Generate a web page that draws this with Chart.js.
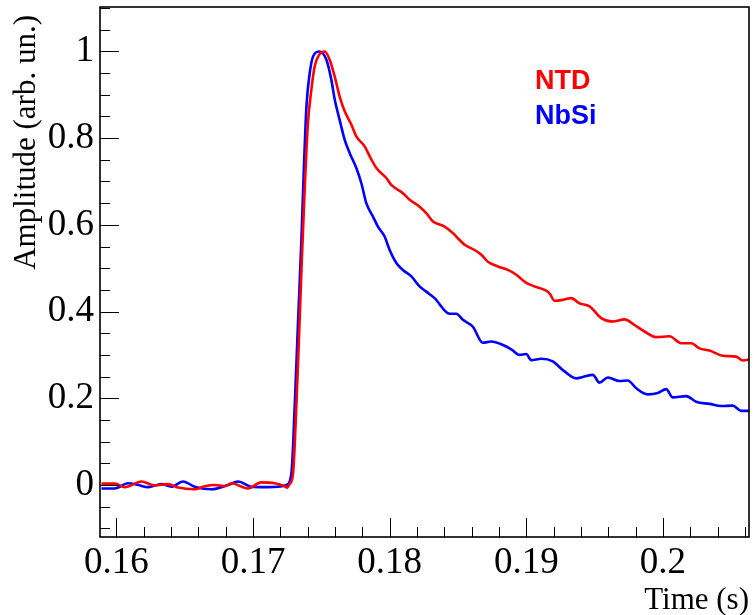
<!DOCTYPE html>
<html>
<head>
<meta charset="utf-8">
<script src="https://cdn.jsdelivr.net/npm/chart.js@4/dist/chart.umd.min.js"></script>
<style>
  html, body { margin: 0; padding: 0; background: #ffffff; }
  #wrap { width: 754px; height: 615px; }
</style>
</head>
<body>
<div id="wrap"><canvas id="c" width="754" height="615"></canvas></div>
<script>
// ---------------- data ----------------
const seriesNames = ['NTD', 'NbSi'];

const timeNTD = [
  0.15891, 0.15988, 0.16061, 0.16184, 0.16281, 0.16378, 0.16451, 0.16573, 0.16646, 0.16720,
  0.16793, 0.16842, 0.16963, 0.17061, 0.17159, 0.17232, 0.17250, 0.17268, 0.17293, 0.17317,
  0.17336, 0.17358, 0.17378, 0.17402, 0.17427, 0.17451, 0.17483, 0.17524, 0.17561, 0.17598,
  0.17634, 0.17671, 0.17720, 0.17756, 0.17817, 0.17854, 0.17903, 0.17976, 0.18012, 0.18097,
  0.18146, 0.18219, 0.18268, 0.18317, 0.18402, 0.18463, 0.18512, 0.18549, 0.18622, 0.18671,
  0.18719, 0.18792, 0.18865, 0.18927, 0.19000, 0.19061, 0.19134, 0.19170, 0.19207, 0.19268,
  0.19329, 0.19390, 0.19463, 0.19548, 0.19633, 0.19719, 0.19792, 0.19865, 0.19951, 0.20048,
  0.20134, 0.20207, 0.20268, 0.20341, 0.20438, 0.20536, 0.20584, 0.20640
];
const ampNTD = [
  0.003, 0.003, -0.005, 0.008, -0.001, 0.002, -0.006, -0.010, -0.003, 0.000,
  -0.003, 0.004, -0.008, 0.006, 0.004, -0.003, -0.006, 0.002, 0.027, 0.181,
  0.335, 0.527, 0.681, 0.835, 0.912, 0.965, 0.992, 1.000, 0.981, 0.942,
  0.896, 0.862, 0.831, 0.804, 0.781, 0.758, 0.731, 0.708, 0.692, 0.673,
  0.658, 0.642, 0.627, 0.608, 0.596, 0.581, 0.565, 0.554, 0.542, 0.531,
  0.515, 0.504, 0.496, 0.485, 0.466, 0.458, 0.450, 0.442, 0.425, 0.427,
  0.431, 0.419, 0.412, 0.385, 0.377, 0.382, 0.369, 0.354, 0.341, 0.343,
  0.327, 0.327, 0.315, 0.310, 0.298, 0.296, 0.287, 0.290
];

const timeNbSi = [
  0.15891, 0.15988, 0.16086, 0.16159, 0.16232, 0.16330, 0.16403, 0.16488, 0.16573, 0.16696,
  0.16817, 0.16890, 0.16988, 0.17086, 0.17183, 0.17244, 0.17281, 0.17305, 0.17329, 0.17354,
  0.17371, 0.17391, 0.17415, 0.17439, 0.17483, 0.17537, 0.17573, 0.17598, 0.17634, 0.17671,
  0.17707, 0.17756, 0.17793, 0.17829, 0.17878, 0.17914, 0.17963, 0.18000, 0.18049, 0.18097,
  0.18159, 0.18219, 0.18268, 0.18329, 0.18439, 0.18488, 0.18536, 0.18609, 0.18682, 0.18744,
  0.18829, 0.18890, 0.18951, 0.19000, 0.19036, 0.19110, 0.19194, 0.19268, 0.19366, 0.19414,
  0.19487, 0.19536, 0.19597, 0.19682, 0.19743, 0.19805, 0.19889, 0.19963, 0.20024, 0.20072,
  0.20170, 0.20243, 0.20341, 0.20426, 0.20511, 0.20573, 0.20640
];
const ampNbSi = [
  -0.008, -0.008, 0.004, 0.000, -0.005, 0.002, -0.004, 0.008, -0.004, -0.010,
  0.000, 0.008, -0.004, -0.005, -0.004, 0.000, 0.027, 0.181, 0.373, 0.565,
  0.720, 0.873, 0.950, 0.988, 1.000, 0.981, 0.935, 0.889, 0.842, 0.796,
  0.766, 0.731, 0.696, 0.650, 0.619, 0.596, 0.573, 0.542, 0.512, 0.496,
  0.481, 0.458, 0.446, 0.431, 0.395, 0.395, 0.381, 0.365, 0.328, 0.331,
  0.323, 0.313, 0.300, 0.302, 0.288, 0.291, 0.285, 0.265, 0.246, 0.249,
  0.254, 0.236, 0.248, 0.240, 0.241, 0.223, 0.209, 0.212, 0.221, 0.202,
  0.205, 0.192, 0.187, 0.182, 0.183, 0.171, 0.171
];

const xTickValues = [0.16, 0.17, 0.18, 0.19, 0.20];
const xTickLabels = ['0.16', '0.17', '0.18', '0.19', '0.2'];
const yTickValues = [0, 0.2, 0.4, 0.6, 0.8, 1.0];
const yTickLabels = ['0', '0.2', '0.4', '0.6', '0.8', '1'];
const xMinorStep = 0.002;
const yMinorStep = 0.05;
const xRange = [0.1588, 0.2063];
const yRange = [-0.12, 1.1025];
const xTitle = 'Time (s)';
const yTitle = 'Amplitude (arb. un.)';

// ---------------- chart ----------------
const SERIF = '"Liberation Serif", "Times New Roman", serif';
const SANS = '"Liberation Sans", Arial, sans-serif';

const rootFrame = {
  id: 'rootFrame',
  afterDatasetsDraw(chart) {
    const { ctx, chartArea: a, scales } = chart;
    const xs = scales.x, ys = scales.y;
    ctx.save();
    ctx.strokeStyle = '#000';
    ctx.lineWidth = 1;
    ctx.beginPath();
    // x ticks (inward, bottom)
    const xMaj = 19, xMin = 10;
    for (let k = Math.ceil(xRange[0] / xMinorStep - 1e-6); k * xMinorStep <= xRange[1] + 1e-9; k++) {
      const v = k * xMinorStep;
      const isMaj = xTickValues.some(t => Math.abs(t - v) < 1e-7);
      const px = Math.round(xs.getPixelForValue(v)) + 0.5;
      ctx.moveTo(px, a.bottom);
      ctx.lineTo(px, a.bottom - (isMaj ? xMaj : xMin));
    }
    // y ticks (inward, left)
    for (let k = Math.ceil(yRange[0] / yMinorStep - 1e-6); k * yMinorStep <= yRange[1] + 1e-9; k++) {
      const v = k * yMinorStep;
      const isMaj = yTickValues.some(t => Math.abs(t - v) < 1e-7);
      const py = Math.round(ys.getPixelForValue(v)) + 0.5;
      ctx.moveTo(a.left, py);
      ctx.lineTo(a.left + (isMaj ? 19 : 10), py);
    }
    ctx.stroke();
    // frame
    ctx.lineWidth = 1.6;
    ctx.strokeRect(a.left, a.top, a.right - a.left, a.bottom - a.top);
    ctx.restore();
  },
  afterDraw(chart) {
    const { ctx, chartArea: a } = chart;
    ctx.save();
    ctx.fillStyle = '#000';
    // x title
    ctx.font = '31px ' + SERIF;
    ctx.textAlign = 'right';
    ctx.textBaseline = 'alphabetic';
    ctx.fillText(xTitle, a.right, 609);
    // y title
    ctx.save();
    ctx.translate(35, a.top + 8);
    ctx.rotate(-Math.PI / 2);
    ctx.textAlign = 'right';
    ctx.fillText(yTitle, 0, 0);
    ctx.restore();
    // legend texts
    ctx.font = 'bold 27px ' + SANS;
    ctx.textAlign = 'left';
    ctx.fillStyle = '#ff0000';
    ctx.fillText(seriesNames[0], 535, 89);
    ctx.fillStyle = '#0000ff';
    ctx.fillText(seriesNames[1], 535, 124);
    ctx.restore();
  }
};

new Chart(document.getElementById('c'), {
  type: 'line',
  data: {
    datasets: [
      {
        label: seriesNames[0],
        data: timeNTD.map((t, i) => ({ x: t, y: ampNTD[i] })),
        borderColor: '#ff0000',
        borderWidth: 2.6,
        pointRadius: 0,
        fill: false,
        cubicInterpolationMode: 'monotone'
      },
      {
        label: seriesNames[1],
        data: timeNbSi.map((t, i) => ({ x: t, y: ampNbSi[i] })),
        borderColor: '#0000ff',
        borderWidth: 2.6,
        pointRadius: 0,
        fill: false,
        cubicInterpolationMode: 'monotone'
      }
    ]
  },
  options: {
    responsive: false,
    animation: false,
    devicePixelRatio: 1,
    layout: { padding: { left: 0, right: 5, top: 7, bottom: 0 } },
    plugins: { legend: { display: false }, tooltip: { enabled: false } },
    scales: {
      x: {
        type: 'linear',
        min: xRange[0],
        max: xRange[1],
        afterBuildTicks: s => { s.ticks = xTickValues.map(v => ({ value: v })); },
        afterFit: s => { s.height = 78; s.paddingLeft = 0; s.paddingRight = 0; },
        grid: { display: false, drawTicks: false },
        border: { display: false },
        ticks: {
          autoSkip: false,
          maxRotation: 0,
          padding: 4,
          color: '#000',
          font: { family: SERIF, size: 37 },
          callback: (v, i) => xTickLabels[i]
        }
      },
      y: {
        type: 'linear',
        min: yRange[0],
        max: yRange[1],
        afterBuildTicks: s => { s.ticks = yTickValues.map(v => ({ value: v })); },
        afterFit: s => { s.width = 100; s.paddingTop = 0; s.paddingBottom = 0; },
        grid: { display: false, drawTicks: false },
        border: { display: false },
        ticks: {
          autoSkip: false,
          padding: 6,
          color: '#000',
          font: { family: SERIF, size: 37 },
          callback: (v, i) => yTickLabels[i]
        }
      }
    }
  },
  plugins: [rootFrame]
});
</script>
</body>
</html>
